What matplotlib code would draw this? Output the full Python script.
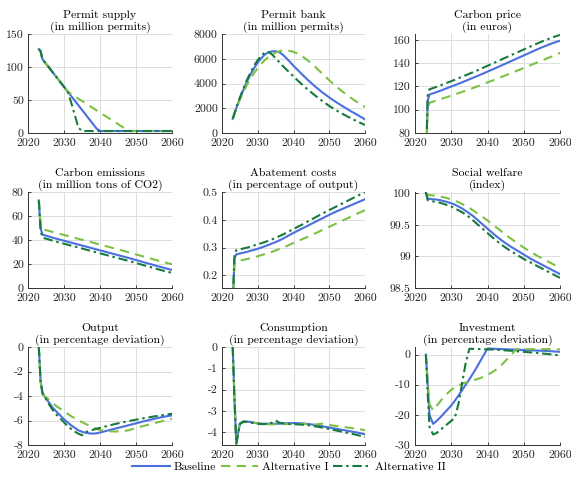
import matplotlib
matplotlib.use("Agg")
import matplotlib.pyplot as plt
from matplotlib.ticker import FormatStrFormatter
from matplotlib.lines import Line2D

plt.rcParams['font.family'] = ['cmr10', 'DejaVu Serif']
plt.rcParams['axes.unicode_minus'] = False
plt.rcParams['mathtext.fontset'] = 'cm'

years = [2023, 2023.5, 2024, 2025, 2026, 2027, 2028, 2029, 2030, 2031, 2032, 2033, 2034,
         2035, 2036, 2037, 2038, 2039, 2040, 2042, 2044, 2046, 2048, 2050, 2052, 2054,
         2056, 2058, 2060]

# permit supply (million permits)
supply_base = [127, 124, 112, 105, 98, 91, 84, 77, 70, 63, 56, 49, 42, 35, 28, 21, 14, 7, 3,
               3, 3, 3, 3, 3, 3, 3, 3, 3, 3]
supply_alt1 = [127, 124, 112, 105, 98, 91, 84, 77, 70, 63, 59, 55.5, 52, 48.5, 45, 41.5, 38,
               34.5, 31, 24, 17, 10, 3, 3, 3, 3, 3, 3, 3]
supply_alt2 = [127, 124, 112, 105, 98, 91, 84, 77, 70, 63, 46, 27, 8, 3, 3, 3, 3, 3, 3,
               3, 3, 3, 3, 3, 3, 3, 3, 3, 3]

# permit bank (million permits)
bank_base = [1150, 1600, 2000, 2800, 3500, 4150, 4750, 5250, 5700, 6050, 6350, 6520, 6600,
             6610, 6530, 6330, 6050, 5750, 5430, 4850, 4290, 3770, 3300, 2870, 2480, 2120,
             1770, 1440, 1100]
bank_alt1 = [1150, 1550, 1950, 2700, 3350, 3900, 4400, 4850, 5250, 5600, 5900, 6150, 6350,
             6500, 6600, 6650, 6660, 6630, 6560, 6300, 5870, 5360, 4810, 4260, 3750, 3280,
             2850, 2460, 2100]
bank_alt2 = [1150, 1600, 2050, 2850, 3600, 4300, 4900, 5450, 5900, 6250, 6500, 6550, 6350,
             6050, 5730, 5420, 5130, 4850, 4570, 4020, 3510, 3040, 2600, 2180, 1830, 1500,
             1200, 910, 650]

# carbon price (euros)
price_base = [50, 108, 113, 114.1, 115.2, 116.3, 117.5, 118.7, 119.9, 121.1, 122.3, 123.5,
              124.8, 126.1, 127.4, 128.7, 130.0, 131.3, 132.7, 135.4, 138.2, 141.0, 143.8,
              146.6, 149.4, 152.2, 154.8, 157.2, 159.2]
price_alt1 = [50, 101, 106, 107, 108, 109, 110, 111, 112, 113.1, 114.2, 115.3, 116.4, 117.5,
              118.6, 119.8, 121.0, 122.2, 123.4, 125.8, 128.3, 130.8, 133.3, 135.8, 138.4,
              141.0, 143.5, 146.0, 148.8]
price_alt2 = [50, 112, 117.5, 118.6, 119.7, 120.9, 122.1, 123.3, 124.5, 125.7, 127.0, 128.3,
              129.6, 130.9, 132.2, 133.5, 134.9, 136.3, 137.7, 140.5, 143.3, 146.1, 148.9,
              151.7, 154.5, 157.2, 159.8, 162.2, 164.2]

# carbon emissions (million tons of CO2)
emis_base = [73, 50, 44.5, 43.6, 42.7, 41.8, 41.0, 40.2, 39.4, 38.6, 37.8, 37.0, 36.2, 35.4,
             34.6, 33.8, 33.0, 32.2, 31.4, 29.8, 28.2, 26.6, 25.0, 23.3, 21.6, 19.9, 18.2,
             16.6, 15.0]
emis_alt1 = [73, 54, 49, 48.2, 47.4, 46.6, 45.8, 45.0, 44.2, 43.4, 42.6, 41.8, 41.0, 40.2,
             39.4, 38.6, 37.8, 37.0, 36.2, 34.6, 33.0, 31.4, 29.7, 28.0, 26.3, 24.6, 22.9,
             21.3, 19.8]
emis_alt2 = [73, 48, 42, 41.1, 40.2, 39.3, 38.5, 37.7, 36.9, 36.1, 35.3, 34.5, 33.7, 32.9,
             32.1, 31.3, 30.5, 29.7, 28.9, 27.3, 25.7, 24.1, 22.5, 20.8, 19.1, 17.4, 15.7,
             14.1, 12.6]

# abatement costs (percentage of output)
abate_base = [0.10, 0.262, 0.276, 0.279, 0.282, 0.285, 0.289, 0.292, 0.296, 0.300, 0.305,
              0.310, 0.315, 0.320, 0.326, 0.332, 0.339, 0.346, 0.353, 0.366, 0.379, 0.392,
              0.405, 0.418, 0.430, 0.441, 0.452, 0.463, 0.474]
abate_alt1 = [0.10, 0.240, 0.250, 0.253, 0.256, 0.259, 0.262, 0.265, 0.269, 0.273, 0.277,
              0.281, 0.285, 0.290, 0.295, 0.300, 0.305, 0.311, 0.317, 0.328, 0.339, 0.351,
              0.363, 0.375, 0.387, 0.399, 0.411, 0.423, 0.435]
abate_alt2 = [0.10, 0.276, 0.291, 0.294, 0.297, 0.300, 0.304, 0.308, 0.312, 0.316, 0.320,
              0.325, 0.330, 0.335, 0.341, 0.347, 0.353, 0.360, 0.367, 0.380, 0.394, 0.408,
              0.422, 0.435, 0.448, 0.461, 0.474, 0.487, 0.500]

# social welfare (index)
welf_base = [100.0, 99.92, 99.91, 99.905, 99.90, 99.89, 99.875, 99.86, 99.84, 99.82, 99.79,
             99.76, 99.72, 99.68, 99.64, 99.59, 99.54, 99.49, 99.44, 99.34, 99.25, 99.17,
             99.10, 99.03, 98.96, 98.90, 98.84, 98.78, 98.72]
welf_alt1 = [100.0, 99.98, 99.97, 99.965, 99.96, 99.95, 99.935, 99.92, 99.90, 99.88, 99.86,
             99.83, 99.80, 99.77, 99.73, 99.69, 99.65, 99.61, 99.57, 99.48, 99.39, 99.30,
             99.22, 99.14, 99.07, 99.00, 98.94, 98.88, 98.82]
welf_alt2 = [100.02, 99.89, 99.88, 99.87, 99.86, 99.85, 99.83, 99.81, 99.79, 99.76, 99.73,
             99.70, 99.66, 99.62, 99.57, 99.52, 99.47, 99.42, 99.37, 99.27, 99.18, 99.10,
             99.03, 98.96, 98.90, 98.84, 98.78, 98.72, 98.66]

# output (percentage deviation)
out_base = [0, -2.8, -3.8, -4.2, -4.6, -5.0, -5.3, -5.6, -5.9, -6.15, -6.4, -6.6, -6.8,
            -6.92, -7.0, -7.05, -7.07, -7.05, -6.98, -6.83, -6.68, -6.53, -6.38, -6.23,
            -6.08, -5.94, -5.8, -5.68, -5.58]
out_alt1 = [0, -2.8, -3.85, -4.1, -4.35, -4.6, -4.85, -5.05, -5.27, -5.45, -5.65, -5.82,
            -5.98, -6.13, -6.28, -6.42, -6.55, -6.67, -6.78, -6.86, -6.9, -6.88, -6.8, -6.6,
            -6.45, -6.3, -6.15, -6.0, -5.85]
out_alt2 = [0, -2.8, -3.7, -4.25, -4.75, -5.2, -5.55, -5.85, -6.15, -6.45, -6.7, -6.9, -7.08,
            -7.2, -6.95, -6.85, -6.76, -6.68, -6.6, -6.45, -6.3, -6.17, -6.05, -5.93, -5.82,
            -5.72, -5.62, -5.53, -5.45]

# consumption (percentage deviation)
cons_base = [0, -2.5, -4.5, -3.6, -3.5, -3.5, -3.52, -3.55, -3.58, -3.6, -3.6, -3.6, -3.6,
             -3.6, -3.6, -3.59, -3.58, -3.57, -3.57, -3.58, -3.61, -3.66, -3.72, -3.78, -3.84,
             -3.9, -3.96, -4.02, -4.1]
cons_alt1 = [0, -2.5, -4.45, -3.62, -3.52, -3.52, -3.54, -3.56, -3.58, -3.6, -3.62, -3.63,
             -3.63, -3.63, -3.63, -3.62, -3.62, -3.61, -3.6, -3.61, -3.62, -3.64, -3.6, -3.66,
             -3.71, -3.75, -3.8, -3.85, -3.9]
cons_alt2 = [0, -2.5, -4.55, -3.6, -3.5, -3.52, -3.55, -3.58, -3.6, -3.62, -3.62, -3.6, -3.55,
             -3.45, -3.55, -3.58, -3.6, -3.62, -3.62, -3.64, -3.67, -3.72, -3.78, -3.85, -3.92,
             -3.99, -4.06, -4.14, -4.22]

# investment (percentage deviation)
inv_base = [0, -10, -20, -23, -22, -20.8, -19.5, -18.2, -16.9, -15.3, -13.6, -11.8, -10.0,
            -8.2, -6.3, -4.3, -2.2, -0.1, 2.0, 1.9, 1.8, 1.7, 1.6, 1.5, 1.4, 1.3, 1.2, 1.05, 0.9]
inv_alt1 = [0, -9, -16.5, -18.5, -17, -15.5, -14, -12.8, -11.7, -10.9, -10.2, -9.7, -9.3,
            -9.0, -8.6, -8.2, -7.8, -7.3, -6.8, -5.3, -3.3, -0.8, 1.8, 1.8, 1.8, 1.8, 1.8,
            1.75, 1.7]
inv_alt2 = [0, -13, -24, -26.5, -26, -25, -24, -23, -22, -21, -16.3, -9.5, -2.7, 1.9, 1.9,
            1.85, 1.8, 1.75, 1.7, 1.6, 1.45, 1.3, 1.1, 0.9, 0.7, 0.5, 0.25, 0.0, -0.3]

titles = ["Permit supply\n(in million permits)", "Permit bank\n(in million permits)",
          "Carbon price\n(in euros)", "Carbon emissions\n(in million tons of CO2)",
          "Abatement costs\n(in percentage of output)", "Social welfare\n(index)",
          "Output\n(in percentage deviation)", "Consumption\n(in percentage deviation)",
          "Investment\n(in percentage deviation)"]
series = [(supply_base, supply_alt1, supply_alt2), (bank_base, bank_alt1, bank_alt2),
          (price_base, price_alt1, price_alt2), (emis_base, emis_alt1, emis_alt2),
          (abate_base, abate_alt1, abate_alt2), (welf_base, welf_alt1, welf_alt2),
          (out_base, out_alt1, out_alt2), (cons_base, cons_alt1, cons_alt2),
          (inv_base, inv_alt1, inv_alt2)]
ylims = [(0, 150), (0, 8000), (80, 165), (0, 80), (0.155, 0.5), (98.5, 100.02),
         (-8, 0), (-4.6, 0), (-30, 2.5)]
yticks = [[0, 50, 100, 150], [0, 2000, 4000, 6000, 8000], [80, 100, 120, 140, 160],
          [0, 20, 40, 60, 80], [0.2, 0.3, 0.4, 0.5], [98.5, 99, 99.5, 100],
          [-8, -6, -4, -2, 0], [-4, -3, -2, -1, 0], [-30, -20, -10, 0]]
labels = ["Baseline", "Alternative I", "Alternative II"]
colors = ["#4a6fe0", "#7cc144", "#187a3c"]
styles = ["-", (0, (4.5, 3)), (0, (4.5, 1.8, 1.2, 1.8))]

W, H = 571, 482
fig = plt.figure(figsize=(W / 100, H / 100), dpi=100)

col_x = [(28, 172), (222, 365), (415, 560)]
row_y = [(34, 133), (192, 288), (347, 445)]

for i in range(9):
    r, c = divmod(i, 3)
    x0, x1 = col_x[c]
    y0, y1 = row_y[r]
    ax = fig.add_axes([x0 / W, 1 - y1 / H, (x1 - x0) / W, (y1 - y0) / H])
    for s, col, ls, lab in zip(series[i], colors, styles, labels):
        ax.plot(years, s, color=col, linestyle=ls, linewidth=1.5, label=lab)
    ax.set_xlim(2020, 2060)
    ax.set_xticks([2020, 2030, 2040, 2050, 2060])
    ax.set_ylim(*ylims[i])
    ax.set_yticks(yticks[i])
    ax.yaxis.set_major_formatter(FormatStrFormatter('%g'))
    ax.grid(True, color='#dddddd', linewidth=0.7)
    ax.set_axisbelow(True)
    for sp in ['top', 'right']:
        ax.spines[sp].set_visible(False)
    for sp in ['left', 'bottom']:
        ax.spines[sp].set_linewidth(0.7)
        ax.spines[sp].set_color('#333333')
    ax.tick_params(direction='in', length=2.5, width=0.6, labelsize=8.5, colors='#222222')
    ax.tick_params(axis='x', pad=4)
    ax.tick_params(axis='y', pad=3)
    ax.set_title(titles[i], fontsize=8.5, pad=3, linespacing=1.15)

handles = [Line2D([], [], color=c, linestyle=ls, linewidth=1.5) for c, ls in zip(colors, styles)]
fig.legend(handles, labels, loc='center', bbox_to_anchor=(0.506, 1 - 467 / H), ncol=3,
           frameon=False, fontsize=8.5, handlelength=3.2, handletextpad=0.3,
           columnspacing=0.4)

fig.savefig("out.png", dpi=100)
